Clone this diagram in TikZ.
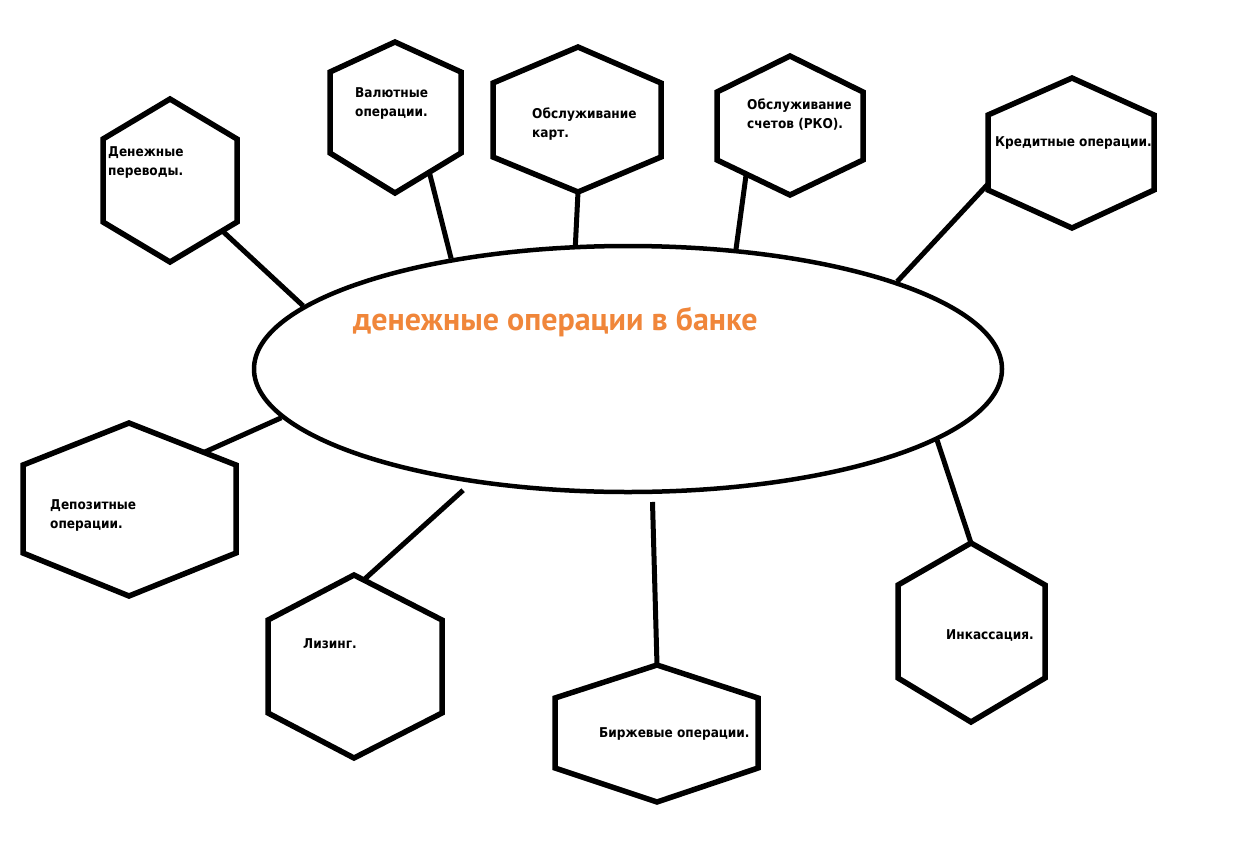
\documentclass[tikz,border=0pt]{standalone}
\usepackage{fontspec}
\usetikzlibrary{shapes.geometric,calc}
\newfontfamily\labelfont{DejaVu Sans Condensed}
\newfontfamily\titlefont{PT Sans}
\definecolor{titleorange}{RGB}{240,134,58}

% hexagon: name, cx, xl, xr, ytop, yupper, ylower, ybottom
\newcommand{\hexa}[8]{%
  \draw[hexline] (#2,#5) coordinate (#1-t) -- (#4,#6) coordinate (#1-ur)
    -- (#4,#7) coordinate (#1-lr) -- (#2,#8) coordinate (#1-b)
    -- (#3,#7) coordinate (#1-ll) -- (#3,#6) coordinate (#1-ul) -- cycle;}

\begin{document}
\begin{tikzpicture}[
        x=1pt, y=-1pt,
        hexline/.style={draw, line width=5.5pt, line join=miter},
        link/.style={draw, line width=5pt},
        oplabel/.style={anchor=base west, inner sep=0pt, align=left,
            font=\labelfont\bfseries\fontsize{13.5}{19}\selectfont},
        title/.style={anchor=base west, inner sep=0pt, text=titleorange,
            font=\titlefont\bfseries\fontsize{32}{36}\selectfont},
        ]
    \useasboundingbox[fill=white] (0,0) rectangle (1259,844);

    \node (bank) [draw, ellipse, line width=4.5pt, inner sep=0pt,
        minimum width=748pt, minimum height=246pt] at (628,369) {};
    \node (title) [title] at (353,330) {денежные операции в банке};

    \hexa{perev}{170}{103}{237}{99}{139}{222}{262}
    \hexa{valut}{395}{330}{461}{42}{72}{153}{193}
    \hexa{kart}{578}{493}{661}{47}{83}{157}{192}
    \hexa{rko}{790}{717}{863}{56}{92}{160}{195}
    \hexa{kred}{1072}{988}{1154}{78}{115}{190}{228}
    \hexa{depo}{129}{23}{236}{423}{465}{553}{596}
    \hexa{lizing}{354}{268}{442}{575}{620}{713}{758}
    \hexa{birzh}{657}{555}{758}{665}{698}{768}{802}
    \hexa{inkas}{971}{898}{1045}{543}{585}{678}{722}

    % base of a two-line label is its last line
    \node (perev-txt) [oplabel] at (108,175) {Денежные\\переводы.};
    \node (valut-txt) [oplabel] at (355,116) {Валютные\\операции.};
    \node (kart-txt) [oplabel] at (532,137) {Обслуживание\\карт.};
    \node (rko-txt) [oplabel] at (747,128) {Обслуживание\\счетов (РКО).};
    \node (kred-txt) [oplabel] at (995,146) {Кредитные операции.};
    \node (depo-txt) [oplabel] at (50,528) {Депозитные\\операции.};
    \node (lizing-txt) [oplabel] at (303,648) {Лизинг.};
    \node (birzh-txt) [oplabel] at (599,737) {Биржевые операции.};
    \node (inkas-txt) [oplabel] at (946,639) {Инкассация.};

    % connectors to the centre
    \draw[link] ($(perev-lr)!.22!(perev-b)$) -- (bank.169.5);
    \draw[link] ($(valut-lr)!.48!(valut-b)$) -- (bank.148);
    \draw[link] (kart-b) -- (bank.113);
    \draw[link] ($(rko-b)!.6!(rko-ll)$) -- (bank.48.5);
    \draw[link] ($(kred-ll)!.08!(kred-ul)$) -- (bank.18.8);
    \draw[link] ($(depo-t)!.7!(depo-ur)$) -- (bank.188);
    \draw[link, shorten >=11pt] ($(lizing-t)!.11!(lizing-ur)$) -- (bank.216.5);
    \draw[link, shorten >=8pt] (birzh-t) -- (bank.281.5);
    \draw[link] (inkas-t) -- (bank.347.8);
\end{tikzpicture}
\end{document}
